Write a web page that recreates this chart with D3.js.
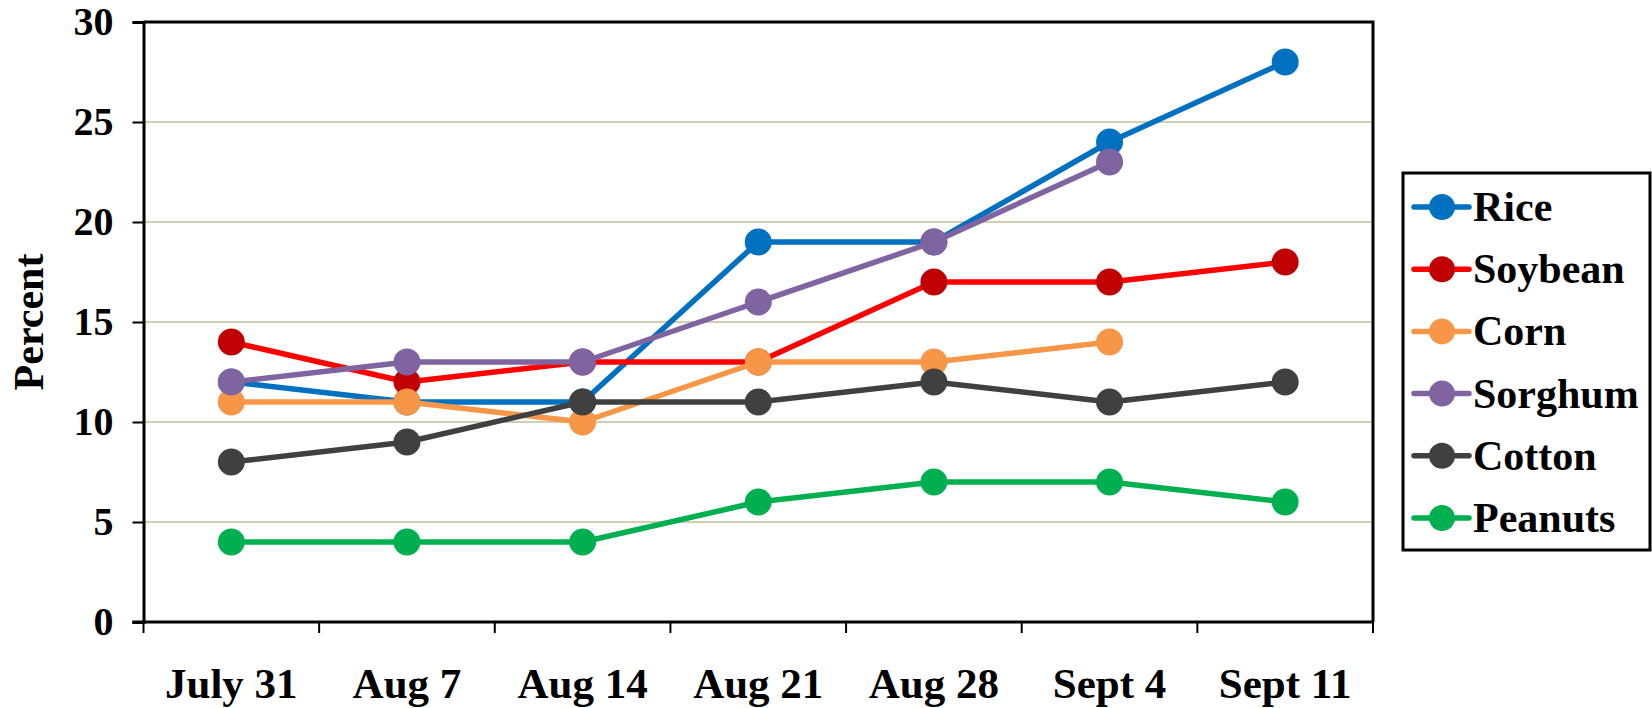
<!DOCTYPE html>
<html>
<head>
<meta charset="utf-8">
<script src="https://cdn.jsdelivr.net/npm/d3@7"></script>
<style>
  html, body { margin: 0; padding: 0; background: #fff; }
  svg { display: block; }
  text { font-family: "Liberation Serif", "Times New Roman", serif; font-weight: bold; fill: #000; }
</style>
</head>
<body>
<svg id="chart" width="1652" height="708"></svg>
<script>
const categories = ["July 31", "Aug 7", "Aug 14", "Aug 21", "Aug 28", "Sept 4", "Sept 11"];
const yTicks = [0, 5, 10, 15, 20, 25, 30];
const seriesNames = ["Rice", "Soybean", "Corn", "Sorghum", "Cotton", "Peanuts"];
const rice    = [12, 11, 11, 19, 19, 24, 28];
const soybean = [14, 12, 13, 13, 17, 17, 18];
const corn    = [11, 11, 10, 13, 13, 14, null];
const sorghum = [12, 13, 13, 16, 19, 23, null];
const cotton  = [8, 9, 11, 11, 12, 11, 12];
const peanuts = [4, 4, 4, 6, 7, 7, 6];
const lineColors   = ["#0070C0", "#FF0000", "#F79646", "#8064A2", "#404040", "#00B050"];
const markerColors = ["#0070C0", "#C00000", "#F79646", "#8064A2", "#404040", "#00B050"];

const seriesValues = [rice, soybean, corn, sorghum, cotton, peanuts];
const series = seriesNames.map((name, i) => ({
  name, values: seriesValues[i], line: lineColors[i], marker: markerColors[i]
}));

const svg = d3.select("#chart");
const pL = 143.5, pR = 1373, pT = 22, pB = 622;

const x = d3.scaleBand().domain(categories).range([pL, pR]).padding(0);
const y = d3.scaleLinear().domain([0, 30]).range([pB, pT]);

// gridlines
svg.append("g").selectAll("line")
  .data(yTicks.filter(t => t > 0 && t < 30))
  .join("line")
  .attr("x1", pL).attr("x2", pR)
  .attr("y1", d => y(d)).attr("y2", d => y(d))
  .attr("stroke", "#C4BD97").attr("stroke-width", 1.6);

// plot border (top and right)
svg.append("path")
  .attr("d", `M${pL},${pT}H${pR}V${pB}`)
  .attr("fill", "none").attr("stroke", "#000").attr("stroke-width", 3);

// y axis
const yAxis = svg.append("g")
  .attr("transform", `translate(${pL},0)`)
  .call(d3.axisLeft(y).tickValues(yTicks).tickSize(11).tickPadding(19).tickFormat(d3.format("d")));
yAxis.select(".domain").attr("stroke", "#000").attr("stroke-width", 3);
yAxis.selectAll(".tick line").attr("stroke", "#000").attr("stroke-width", 2);
yAxis.selectAll(".tick text")
  .style("font-family", '"Liberation Serif", "Times New Roman", serif')
  .style("font-weight", "bold").style("font-size", "40px").attr("fill", "#000");

// x axis: ticks at band boundaries
const xAxisG = svg.append("g");
xAxisG.append("line")
  .attr("x1", pL - 11).attr("x2", pR)
  .attr("y1", pB).attr("y2", pB)
  .attr("stroke", "#000").attr("stroke-width", 3);
const boundaries = categories.map(c => x(c)).concat([x(categories[categories.length - 1]) + x.bandwidth()]);
xAxisG.selectAll("line.tk").data(boundaries).join("line")
  .attr("class", "tk")
  .attr("x1", d => d).attr("x2", d => d)
  .attr("y1", pB).attr("y2", pB + 11)
  .attr("stroke", "#000").attr("stroke-width", 2);
xAxisG.selectAll("text").data(categories).join("text")
  .attr("x", d => x(d) + x.bandwidth() / 2)
  .attr("y", 698)
  .attr("text-anchor", "middle")
  .style("font-size", "43px")
  .text(d => d);

// y label
svg.append("text")
  .attr("transform", `translate(43,${(pT + pB) / 2}) rotate(-90)`)
  .attr("text-anchor", "middle")
  .style("font-size", "42px")
  .text("Percent");

// series
const line = d3.line()
  .defined(d => d.v !== null)
  .x(d => x(d.c) + x.bandwidth() / 2)
  .y(d => y(d.v));

series.forEach(s => {
  const pts = s.values.map((v, i) => ({ c: categories[i], v }));
  const g = svg.append("g");
  g.append("path")
    .datum(pts)
    .attr("d", line)
    .attr("fill", "none")
    .attr("stroke", s.line)
    .attr("stroke-width", 5.5)
    .attr("stroke-linejoin", "round");
  g.selectAll("circle").data(pts.filter(p => p.v !== null)).join("circle")
    .attr("cx", d => x(d.c) + x.bandwidth() / 2)
    .attr("cy", d => y(d.v))
    .attr("r", 13.5)
    .attr("fill", s.marker);
});

// legend
const lg = svg.append("g");
lg.append("rect")
  .attr("x", 1403).attr("y", 173).attr("width", 247).attr("height", 377)
  .attr("fill", "#fff").attr("stroke", "#000").attr("stroke-width", 3);
const legendY = d3.scalePoint().domain(seriesNames).range([207, 518]);
series.forEach(s => {
  const cy = legendY(s.name);
  lg.append("line")
    .attr("x1", 1414).attr("x2", 1469).attr("y1", cy).attr("y2", cy)
    .attr("stroke", s.line).attr("stroke-width", 5.5).attr("stroke-linecap", "round");
  lg.append("circle").attr("cx", 1442).attr("cy", cy).attr("r", 13).attr("fill", s.marker);
  lg.append("text")
    .attr("x", 1473).attr("y", cy + 14)
    .style("font-size", "42px")
    .text(s.name);
});
</script>
</body>
</html>
